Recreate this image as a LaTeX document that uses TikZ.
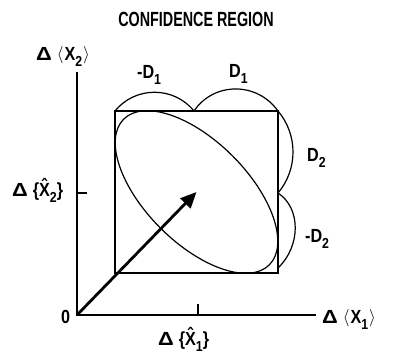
\documentclass[tikz,border=0pt]{standalone}
\usepackage{fontspec}
\setmainfont{Liberation Sans}[FakeStretch=0.85]
\newfontfamily\titlefont{Liberation Sans}[FakeStretch=0.7]
\usetikzlibrary{arrows.meta}
\newcommand{\lowsub}[1]{\raisebox{-6pt}{\fontsize{14.5}{14.5}\selectfont #1}}
\newcommand{\dlt}{\scalebox{1.35}[1]{\textbf{Δ}}}
\newcommand{\lang}{\raisebox{0.5pt}{\fontsize{18}{18}\selectfont$\langle$}}
\newcommand{\rang}{\raisebox{0.5pt}{\fontsize{18}{18}\selectfont$\rangle$}}
\begin{document}
\begin{tikzpicture}[x=1pt,y=-1pt,
  lbl/.style={inner sep=0pt,anchor=base west,font=\fontsize{19}{20}\selectfont\bfseries},
  axis/.style={line width=1.5pt},
  boxline/.style={line width=1.6pt},
  curve/.style={line width=1.2pt},
  vec/.style={line width=2.8pt,-{Triangle[length=16pt,width=14pt]}}]
\useasboundingbox (0,0) rectangle (393,354);
% axes
\coordinate (O) at (77,315);
\coordinate (ytop) at (77,72);
\coordinate (xend) at (316,315);
\draw[axis] (ytop) -- (O) -- (xend);
% ticks
\coordinate (ty) at (77,193);
\coordinate (tye) at (87,193);
\coordinate (tx) at (198,315);
\coordinate (txe) at (198,304);
\draw[axis] (ty) -- (tye);
\draw[axis] (tx) -- (txe);
% box
\coordinate (BL) at (115,273);
\coordinate (TL) at (115,111);
\coordinate (TR) at (278,111);
\coordinate (BR) at (278,273);
\coordinate (TM) at (194,111);
\coordinate (RM) at (278,193);
\coordinate (RB) at (278,268);
\coordinate (C) at (196.5,192);
\draw[boxline] (BL) -- (TL) -- (TR) -- (BR) -- cycle;
% ellipse
\draw[curve,rotate around={-45:(C)}] (C) ellipse [x radius=103, y radius=51];
% D curves
\draw[curve] (TL) .. controls (135.3,86) and (173.7,86) .. (TM);
\draw[curve] (TM) .. controls (213.9,81.6) and (257.1,81.6) .. (TR);
\draw[curve] (TR) .. controls (298,134.7) and (298,169.3) .. (RM);
\draw[curve] (RM) .. controls (301,208) and (301,246) .. (RB);
% arrow
\draw[vec] (O) -- (C);
% labels
\node[inner sep=0pt,font=\titlefont\fontsize{20.5}{21}\selectfont\bfseries] (title) at (196,19) {CONFIDENCE REGION};
\node[lbl] (ylab) at (36,60) {\dlt\hspace{5pt}\lang\hspace{1pt}X\lowsub{2}\hspace{1pt}\rang};
\node[lbl] (md1) at (137,78) {-D\lowsub{1}};
\node[lbl] (d1) at (229,77) {D\lowsub{1}};
\node[lbl] (d2) at (307,161) {D\lowsub{2}};
\node[lbl] (md2) at (305,242) {-D\lowsub{2}};
\node[lbl] (yhat) at (12,196) {\dlt\hspace{5pt}\{\^{X}\lowsub{2}\}};
\node[lbl] (zero) at (61,323) {0};
\node[lbl] (xlab) at (322,323) {\dlt\hspace{5pt}\lang\hspace{1pt}X\lowsub{1}\hspace{1pt}\rang};
\node[lbl] (xhat) at (158,345) {\dlt\hspace{5pt}\{\^{X}\lowsub{1}\}};
\end{tikzpicture}
\end{document}
